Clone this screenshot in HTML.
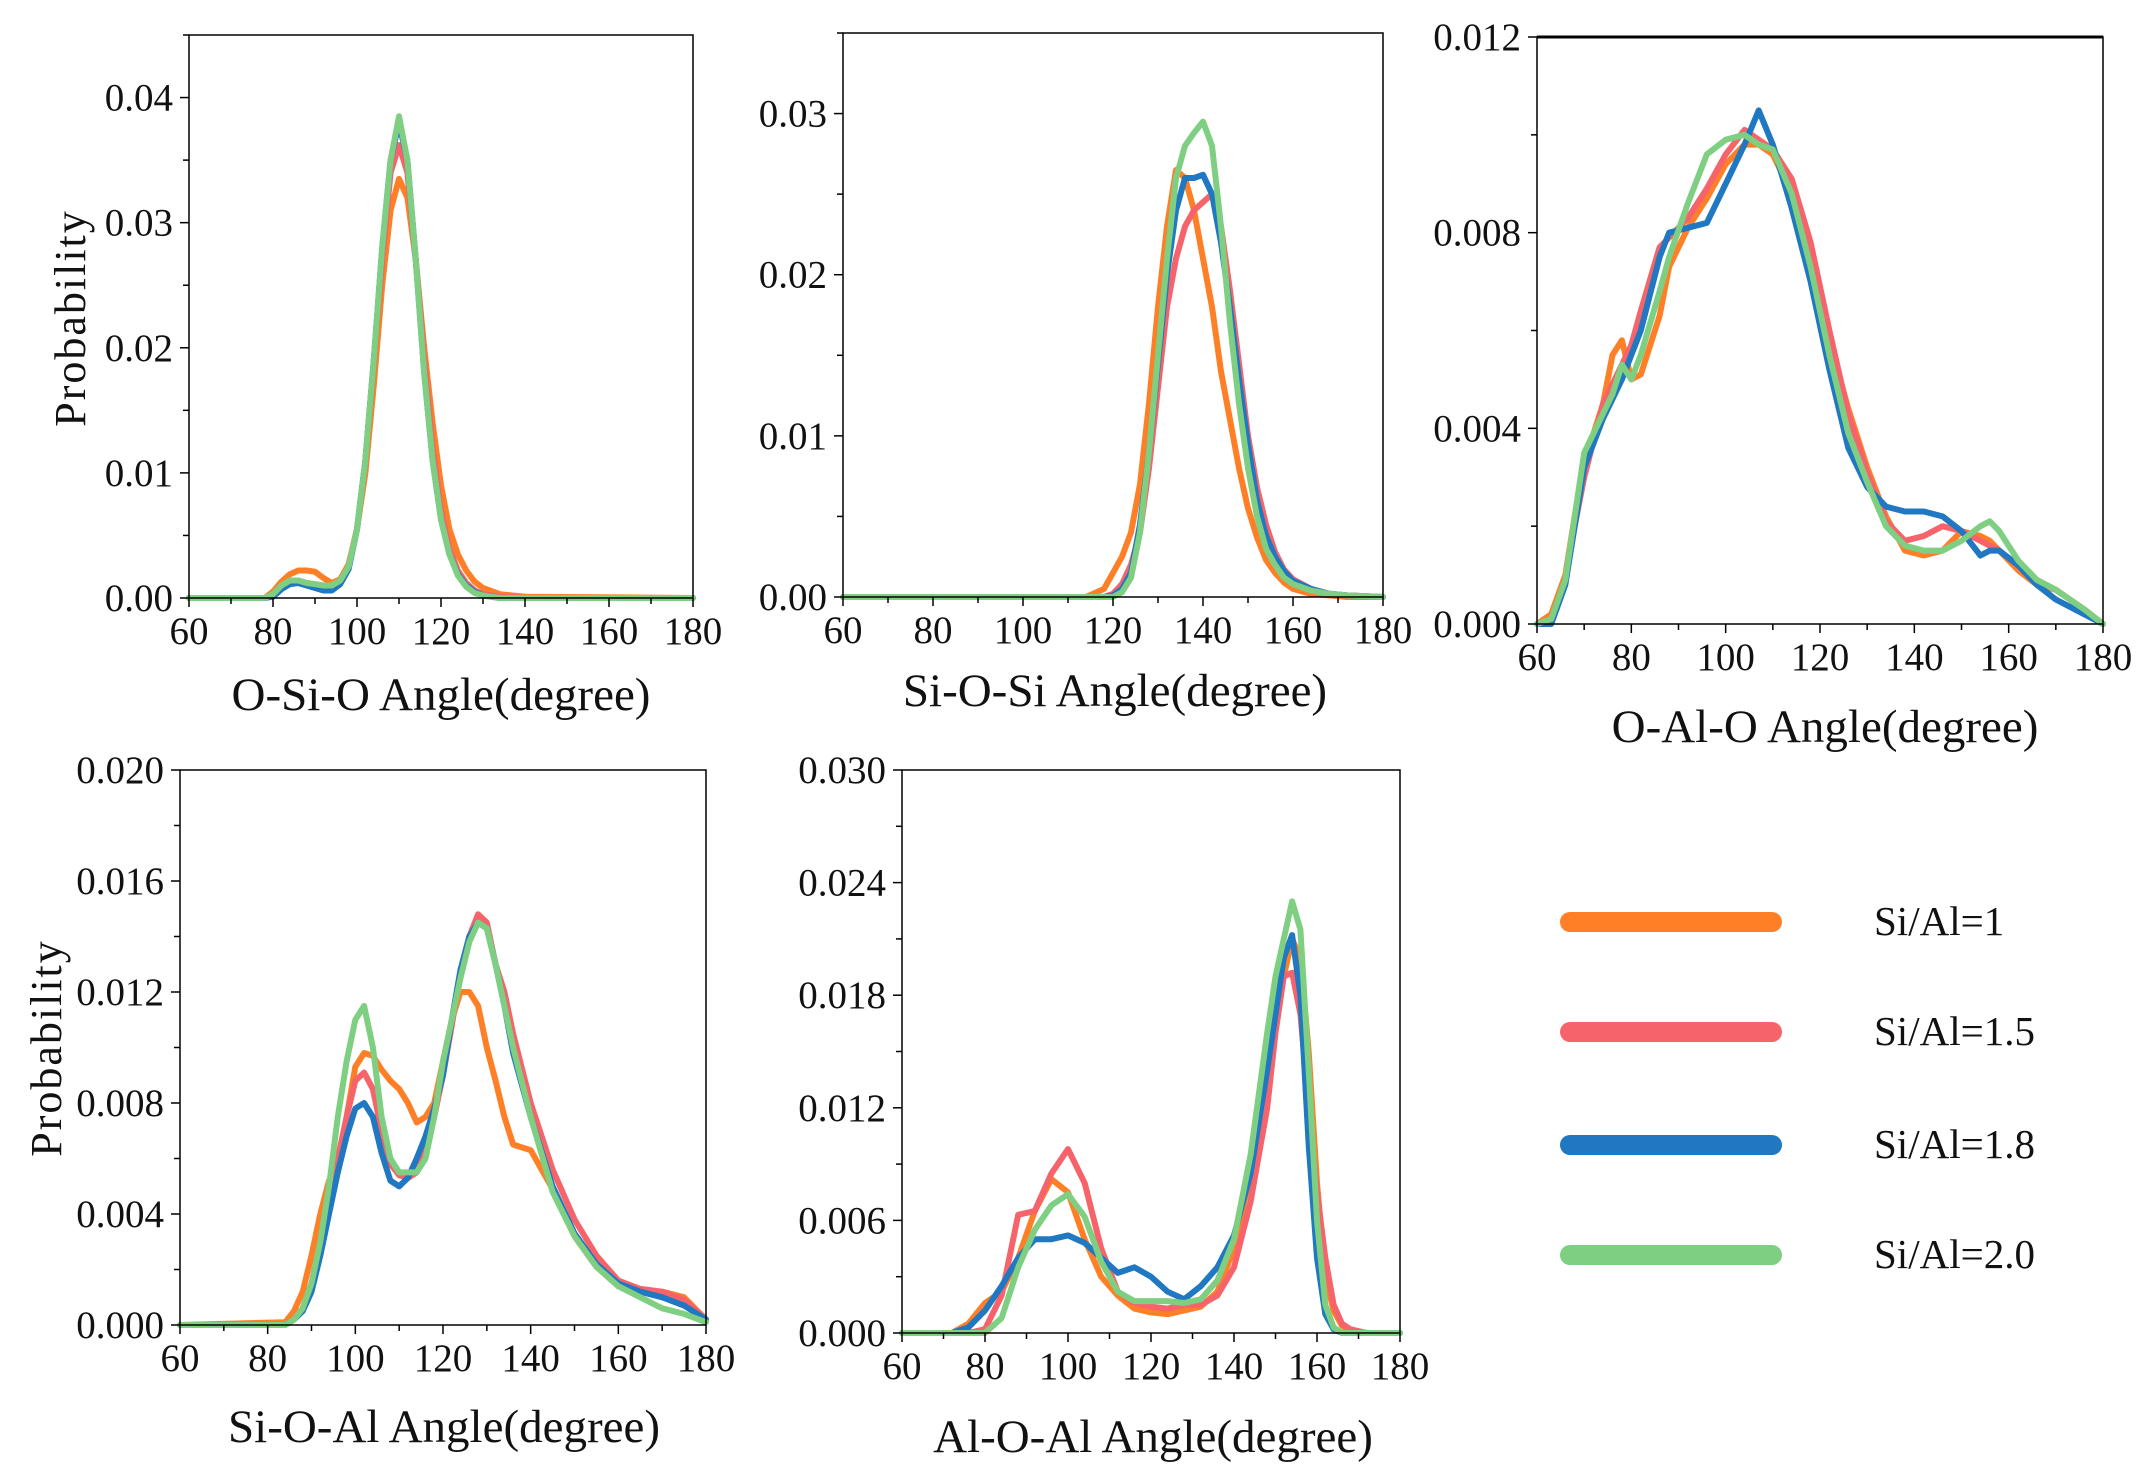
<!DOCTYPE html>
<html><head><meta charset="utf-8"><style>
html,body{margin:0;padding:0;background:#fff}
svg{display:block}
text{font-family:"Liberation Serif",serif;fill:#111}
</style></head><body>
<svg id="fig" width="2151" height="1474" viewBox="0 0 2151 1474" xmlns="http://www.w3.org/2000/svg"></svg>
<script>
const seriesNames = ["Si/Al=1","Si/Al=1.5","Si/Al=1.8","Si/Al=2.0"];
const seriesColors = ["#ff7f27","#f7636a","#1f78c1","#7fcf82"];

const p1x = [60,78,80,82,84,86,88,90,92,94,96,98,100,102,104,106,108,110,112,114,116,118,120,122,124,126,128,130,134,140,180];
const p1orange = [0,0,.0005,.0013,.0019,.0022,.0022,.0021,.0016,.0012,.0015,.0027,.0055,.010,.017,.025,.031,.0335,.032,.027,.020,.014,.009,.0055,.0035,.0022,.0013,.0008,.0003,.0001,0];
const p1pink = [0,0,.0003,.0010,.0013,.0014,.0012,.0011,.0010,.0010,.0013,.0025,.0055,.011,.019,.027,.034,.0362,.034,.027,.019,.012,.007,.004,.0022,.0012,.0006,.0003,.0001,0,0];
const p1blue = [0,0,.0001,.0007,.0011,.0012,.0010,.0008,.0006,.0006,.0011,.0023,.0055,.011,.019,.028,.035,.038,.035,.027,.018,.011,.0063,.0035,.0019,.001,.0005,.0002,0,0,0];
const p1green = [0,0,.0003,.0010,.0014,.0014,.0012,.0011,.0010,.0010,.0014,.0025,.0055,.011,.019,.028,.035,.0385,.035,.027,.018,.011,.0063,.0035,.0018,.0009,.0004,.0002,0,0,0];

const p2x = [60,114,118,120,122,124,126,128,130,132,134,136,138,140,142,144,146,148,150,152,154,156,158,160,164,168,172,180];
const p2orange = [0,0,.0005,.0015,.0025,.004,.007,.012,.018,.023,.0265,.026,.024,.021,.018,.014,.011,.008,.0055,.0037,.0023,.0015,.0009,.0005,.0002,.0001,0,0];
const p2pink = [0,0,0,.0002,.0008,.002,.004,.008,.013,.018,.021,.023,.024,.0245,.025,.023,.019,.0145,.010,.0068,.0045,.0028,.0017,.0011,.0005,.0002,.0001,0];
const p2blue = [0,0,0,.0001,.0005,.0015,.0045,.009,.0145,.020,.024,.026,.026,.0262,.025,.022,.018,.0135,.0095,.006,.0038,.0025,.0016,.001,.0005,.0002,.0001,0];
const p2green = [0,0,0,0,.0003,.0012,.004,.009,.015,.021,.026,.028,.0288,.0295,.028,.023,.017,.012,.008,.005,.003,.002,.0012,.0008,.0004,.0002,.0001,0];

const p3x = [60,63,66,68,70,74,76,78,80,82,86,88,92,96,100,104,107,110,114,118,122,126,130,134,138,142,146,150,154,156,158,162,166,170,176,180];
const p3orange = [0,.0002,.001,.0022,.0033,.0045,.0055,.0058,.005,.0051,.0063,.0073,.0081,.0087,.0094,.0098,.0098,.0096,.0088,.0074,.0058,.0044,.0032,.0022,.0015,.0014,.0015,.0019,.0018,.0017,.0015,.0011,.0008,.0007,.0003,0];
const p3pink = [0,.0001,.0009,.002,.003,.0045,.0049,.0053,.0057,.0064,.0077,.0079,.0083,.0089,.0096,.0101,.0099,.0097,.0091,.0078,.006,.0043,.0031,.0021,.0017,.0018,.0020,.0019,.0017,.0016,.0015,.0012,.0009,.0007,.0003,0];
const p3blue = [0,0,.0008,.002,.0032,.0042,.0046,.005,.0055,.006,.0075,.008,.0081,.0082,.009,.0098,.0105,.0098,.0085,.007,.0052,.0036,.0028,.0024,.0023,.0023,.0022,.0019,.0014,.0015,.0015,.0012,.0008,.0005,.0002,0];
const p3green = [0,.0001,.0009,.0022,.0035,.0043,.0047,.0053,.005,.0055,.0068,.0075,.0086,.0096,.0099,.0100,.0098,.0097,.0088,.0073,.0055,.0039,.0029,.002,.0016,.0015,.0015,.0017,.002,.0021,.0019,.0013,.0009,.0007,.0003,0];

const p4x = [60,84,86,88,90,92,94,96,98,100,102,104,106,108,110,112,114,116,118,120,122,124,126,128,130,132,134,136,140,145,150,155,160,165,170,175,180];
const p4orange = [0,.0001,.0005,.0012,.0025,.004,.0052,.0055,.0075,.0093,.0098,.0097,.0092,.0088,.0085,.008,.0073,.0075,.008,.0095,.011,.012,.012,.0115,.010,.0088,.0075,.0065,.0063,.0049,.0032,.0021,.0014,.0012,.0012,.0010,.0002];
const p4pink = [0,0,.0002,.0006,.0015,.003,.0042,.006,.0075,.0088,.0091,.0085,.007,.0058,.0054,.0053,.0055,.0063,.0075,.009,.0108,.0127,.014,.0148,.0145,.013,.012,.0105,.008,.0056,.0038,.0025,.0016,.0013,.0012,.0009,.0002];
const p4blue = [0,0,.0002,.0005,.0012,.0025,.004,.0055,.0068,.0078,.0080,.0075,.0062,.0052,.005,.0053,.006,.0068,.0078,.009,.011,.0128,.0140,.0145,.0143,.013,.0115,.0098,.0075,.005,.0033,.0022,.0015,.0012,.0010,.0007,.0002];
const p4green = [0,0,.0002,.0006,.0015,.003,.005,.0075,.0095,.011,.0115,.010,.0075,.006,.0055,.0055,.0055,.006,.0075,.0095,.011,.0125,.0138,.0145,.0143,.013,.0115,.010,.0075,.0048,.0032,.0021,.0014,.0010,.0006,.0004,.0001];

const p5x = [60,72,76,80,84,88,92,96,100,104,108,112,116,120,124,128,132,136,140,144,148,150,152,154,156,158,160,162,164,166,168,172,180];
const p5orange = [0,0,.0005,.0016,.0022,.004,.0065,.0082,.0075,.005,.003,.002,.0013,.0011,.001,.0012,.0014,.0022,.0045,.0085,.015,.018,.019,.021,.020,.015,.008,.003,.0012,.0004,.0001,0,0];
const p5pink = [0,0,0,.0002,.002,.0063,.0065,.0085,.0098,.008,.0045,.0022,.0016,.0014,.0013,.0015,.0015,.002,.0035,.007,.012,.016,.019,.0192,.017,.012,.0075,.004,.0015,.0005,.0002,0,0];
const p5blue = [0,0,.0003,.0012,.0025,.004,.005,.005,.0052,.0048,.004,.0032,.0035,.003,.0022,.0018,.0025,.0035,.0052,.0085,.014,.017,.020,.0212,.018,.010,.004,.001,.0002,0,0,0,0];
const p5green = [0,0,0,0,.0008,.0035,.0055,.0068,.0074,.0062,.0038,.0022,.0017,.0017,.0017,.0016,.0018,.0028,.005,.0095,.016,.019,.021,.023,.0215,.014,.006,.0015,.0003,0,0,0,0];

const xTicks = [60,80,100,120,140,160,180];
const p1yTicks = ["0.00","0.01","0.02","0.03","0.04"];
const p2yTicks = ["0.00","0.01","0.02","0.03"];
const p3yTicks = ["0.000","0.004","0.008","0.012"];
const p4yTicks = ["0.000","0.004","0.008","0.012","0.016","0.020"];
const p5yTicks = ["0.000","0.006","0.012","0.018","0.024","0.030"];

const NS = "http://www.w3.org/2000/svg";
const svg = document.getElementById("fig");
function mk(tag, attrs, parent){
  const e = document.createElementNS(NS, tag);
  for (const k in attrs) e.setAttribute(k, attrs[k]);
  (parent||svg).appendChild(e);
  return e;
}

const panels = [
 {id:"o-si-o", L:189,R:693,T:35,B:598,ymax:0.045,yt:p1yTicks,ystep:0.01,xs:p1x,ys:[p1orange,p1pink,p1blue,p1green],title:"O-Si-O Angle(degree)",tx:441,ty:710,ylab:{x:70,y:318}},
 {id:"si-o-si", L:843,R:1383,T:33,B:597,ymax:0.035,yt:p2yTicks,ystep:0.01,xs:p2x,ys:[p2orange,p2pink,p2blue,p2green],title:"Si-O-Si Angle(degree)",tx:1115,ty:706},
 {id:"o-al-o", L:1537,R:2103,T:37,B:624,ymax:0.012,yt:p3yTicks,ystep:0.004,xs:p3x,ys:[p3orange,p3pink,p3blue,p3green],title:"O-Al-O Angle(degree)",tx:1825,ty:742,thickTop:true},
 {id:"si-o-al", L:180,R:706,T:770,B:1325,ymax:0.020,yt:p4yTicks,ystep:0.004,xs:p4x,ys:[p4orange,p4pink,p4blue,p4green],title:"Si-O-Al Angle(degree)",tx:444,ty:1442,ylab:{x:46,y:1048}},
 {id:"al-o-al", L:902,R:1400,T:770,B:1333,ymax:0.030,yt:p5yTicks,ystep:0.006,xs:p5x,ys:[p5orange,p5pink,p5blue,p5green],title:"Al-O-Al Angle(degree)",tx:1153,ty:1452}
];

panels.forEach(p=>{
  const g = mk("g",{});
  
  
  const sx = v => p.L + (v-60)/(120)*(p.R-p.L);
  const sy = v => p.B - v/p.ymax*(p.B-p.T);
  p.ys.forEach((arr,si)=>{
    const pts = p.xs.map((x,i)=>sx(x).toFixed(1)+","+sy(arr[i]).toFixed(1)).join(" ");
    const pl = mk("polyline",{points:pts,fill:"none",stroke:seriesColors[si],"stroke-width":6,"stroke-linejoin":"round","stroke-linecap":"round"},g);
    
    
  });
  const fr = mk("rect",{x:p.L,y:p.T,width:p.R-p.L,height:p.B-p.T,fill:"none",stroke:"#000","stroke-width":1.5},g);
  
  
  if (p.thickTop) mk("line",{x1:p.L,x2:p.R,y1:p.T,y2:p.T,stroke:"#000","stroke-width":3},g);
  for (let v=60; v<=180; v+=10){
    const major = v%20===0;
    mk("line",{x1:sx(v),x2:sx(v),y1:p.B,y2:p.B+(major?9:6),stroke:"#000","stroke-width":1.5},g);
  }
  xTicks.forEach(v=>{
    const t = mk("text",{x:sx(v),y:p.B+46,"text-anchor":"middle","font-size":39},g);
    t.textContent = v;
    
    
  });
  for (let i=0; i*p.ystep/2 <= p.ymax+1e-9; i++){
    const v = i*p.ystep/2;
    mk("line",{x1:p.L,x2:p.L-(i%2===0?9:6),y1:sy(v),y2:sy(v),stroke:"#000","stroke-width":1.5},g);
  }
  p.yt.forEach(lbl=>{
    const t = mk("text",{x:p.L-16,y:sy(parseFloat(lbl))+13,"text-anchor":"end","font-size":39},g);
    t.textContent = lbl;
    
    
  });
  const tt = mk("text",{x:p.tx,y:p.ty,"text-anchor":"middle","font-size":47},g);
  tt.textContent = p.title;
  
  
  if (p.ylab){
    const yl = mk("text",{x:0,y:0,"text-anchor":"middle","font-size":44,"letter-spacing":"2",transform:"translate("+(p.ylab.x+15)+","+p.ylab.y+") rotate(-90)"},g);
    yl.textContent = "Probability";
    
    
  }
});

const legendY = [922,1032,1145,1255];
const lg = mk("g",{});


seriesNames.forEach((n,i)=>{
  const e = mk("g",{},lg);
  
  
  mk("line",{x1:1570,x2:1772,y1:legendY[i],y2:legendY[i],stroke:seriesColors[i],"stroke-width":20,"stroke-linecap":"round"},e);
  const t = mk("text",{x:1874,y:legendY[i]+13,"font-size":41},e);
  t.textContent = n;
});
</script>
</body></html>
